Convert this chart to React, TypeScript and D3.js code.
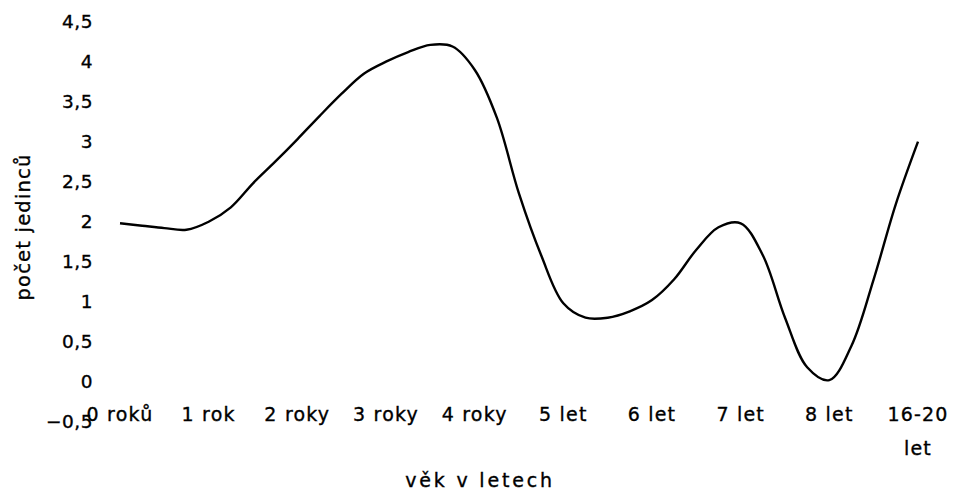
import React from "react";
import * as d3 from "d3";

// age categories shown on the x axis
const categories = ["0 roků", "1 rok", "2 roky", "3 roky", "4 roky", "5 let", "6 let", "7 let", "8 let", "16-20 let"];

// measurements, position in category units (quarter steps) and count
const agePos = [
  0, 0.25, 0.5, 0.75, 1, 1.25, 1.5, 1.75, 2, 2.25, 2.5, 2.75, 3, 3.25, 3.5, 3.75, 4, 4.25, 4.5,
  4.75, 5, 5.25, 5.5, 5.75, 6, 6.25, 6.5, 6.75, 7, 7.25, 7.5, 7.75, 8, 8.25, 8.5, 8.75, 9,
];
const counts = [
  1.98, 1.95, 1.92, 1.9, 2.0, 2.18, 2.48, 2.75, 3.03, 3.32, 3.6, 3.85, 4.0, 4.12, 4.21, 4.19, 3.9, 3.3, 2.35,
  1.58, 0.98, 0.8, 0.8, 0.88, 1.02, 1.28, 1.65, 1.93, 1.98, 1.58, 0.8, 0.18, 0.02, 0.45, 1.28, 2.22, 3.0,
];

const yTicks = [-0.5, 0, 0.5, 1, 1.5, 2, 2.5, 3, 3.5, 4, 4.5];

const W = 954;
const H = 493;
const FONT = "'DejaVu Sans', Verdana, sans-serif";

const locale = d3.formatLocale({ decimal: ",", thousands: " ", grouping: [3], currency: ["", " Kč"] });
const fmt = locale.format("~g");

export default function App() {
  const x = d3.scaleLinear().domain([0, categories.length - 1]).range([120, 918]);
  const y = d3.scaleLinear().domain([-0.5, 4.5]).range([421.7, 21.7]);

  const pts: [number, number][] = agePos.map((p, i) => [p, counts[i]]);
  const line = d3
    .line<[number, number]>()
    .x((d) => x(d[0]))
    .y((d) => y(d[1]))
    .curve(d3.curveCatmullRom.alpha(0.5));

  // a hair of stroke makes DejaVu look as heavy as the original text
  const textStyle = { stroke: "#000", strokeWidth: 0.35 };

  return (
    <>
      <style>{`body{margin:0}`}</style>
      <svg width={W} height={H} style={{ display: "block", background: "#fff" }}>
        {/* y tick labels */}
        <g fontFamily={FONT} fontSize={18.5} fill="#000" style={textStyle} letterSpacing={0.5}>
          {yTicks.map((t) => (
            <text key={t} x={93} y={y(t)} textAnchor="end" dominantBaseline="central">
              {fmt(t)}
            </text>
          ))}
        </g>

        {/* category labels */}
        <g fontFamily={FONT} fontSize={19} fill="#000" letterSpacing={1.2} style={textStyle}>
          {categories.map((c, i) => {
            const parts = c === "16-20 let" ? ["16-20", "let"] : [c];
            return (
              <text key={c} x={x(i)} y={414} textAnchor="middle" dominantBaseline="central">
                {parts.map((p, j) => (
                  <tspan key={j} x={x(i)} dy={j === 0 ? 0 : 34}>
                    {p}
                  </tspan>
                ))}
              </text>
            );
          })}
        </g>

        {/* axis titles */}
        <text
          x={480}
          y={480}
          textAnchor="middle"
          dominantBaseline="central"
          fontFamily={FONT}
          fontSize={19}
          letterSpacing={2.8}
          style={textStyle}
        >
          věk v letech
        </text>
        <text
          transform={`translate(23,227) rotate(-90)`}
          textAnchor="middle"
          dominantBaseline="central"
          fontFamily={FONT}
          fontSize={19.5}
          letterSpacing={1.2}
          style={textStyle}
        >
          počet jedinců
        </text>

        <path d={line(pts) ?? ""} fill="none" stroke="#000" strokeWidth={2.4} strokeLinejoin="round" />
      </svg>
    </>
  );
}
